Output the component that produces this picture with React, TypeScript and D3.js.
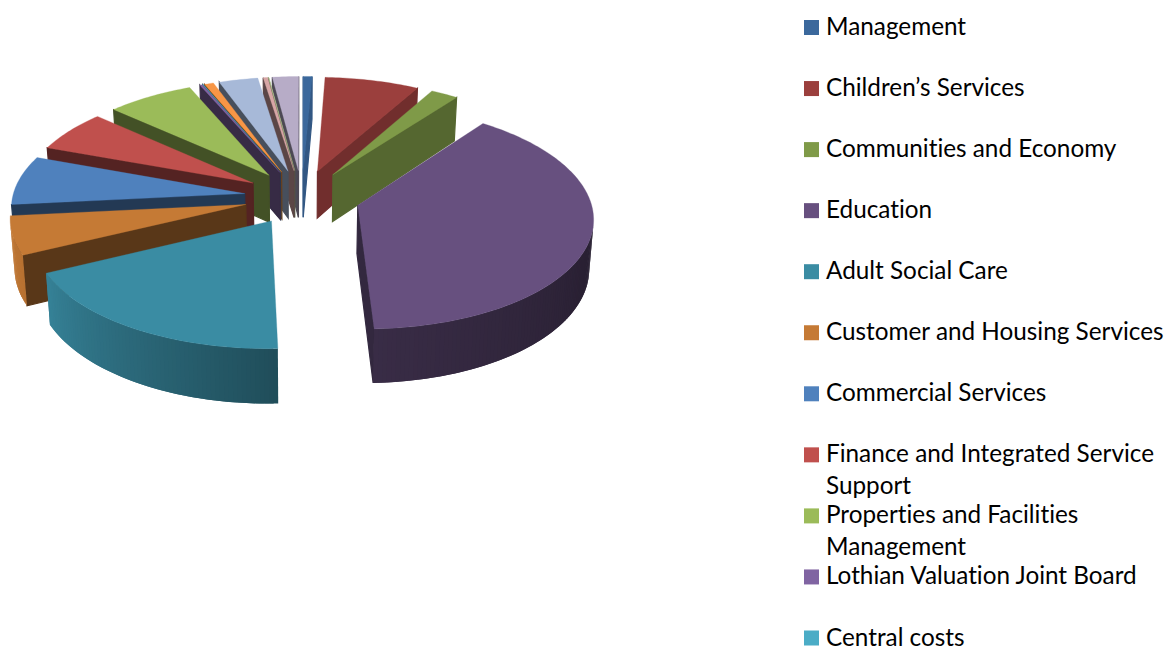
import React from "react";
import * as d3 from "d3";

// Budget shares by service, clockwise from twelve o'clock
const categories = [
  "Management",
  "Children’s Services",
  "Communities and Economy",
  "Education",
  "Adult Social Care",
  "Customer and Housing Services",
  "Commercial Services",
  "Finance and Integrated Service Support",
  "Properties and Facilities Management",
  "Lothian Valuation Joint Board",
  "Central costs",
  "Other 1",
  "Other 2",
  "Other 3",
  "Other 4",
  "Other 5",
];
const shares = [0.7, 7.4, 2.15, 39.15, 18.4, 5.6, 7.2, 6.12, 6.81, 0.2, 0.05, 0.72, 3.05, 0.35, 0.05, 2.05];
const colours = [
  "#3B689C", "#9B3F3D", "#7F9A48", "#67507F", "#3A8CA3", "#C57A35", "#4F81BD", "#C0504D",
  "#9BBB59", "#8064A2", "#4BACC6", "#F79646", "#A7B9D8", "#D7A6A5", "#C0D49B", "#B7ACC7",
];
// Legend rows: only the named services, some broken over two lines
const legendRows = [
  ["Management"],
  ["Children’s Services"],
  ["Communities and Economy"],
  ["Education"],
  ["Adult Social Care"],
  ["Customer and Housing Services"],
  ["Commercial Services"],
  ["Finance and Integrated Service", "Support"],
  ["Properties and Facilities", "Management"],
  ["Lothian Valuation Joint Board"],
  ["Central costs"],
];

const WIDTH = 1165;
const HEIGHT = 646;

// Pie geometry and the perspective camera
const CX = 302;
const CY = 197;
const RADIUS = 232;
const EXPLODE = 58;
const TILT = 0.47;
const DEPTH = 48;
const PERSPECTIVE = 0.00045;
const FLOOR_SHRINK = 0.015;

type Pt = [number, number];

const project = (wx: number, wy: number, z: number): Pt => {
  const s = 1 / (1 - PERSPECTIVE * wy);
  const sz = s * (1 - FLOOR_SHRINK * z);
  return [CX + wx * sz, CY + (TILT * wy + DEPTH * z) * s];
};

const deg = (r: number) => (r * 180) / Math.PI;

// Brightness of the outer wall and of the cut walls, by angle in degrees
const rimShade = d3.scaleLinear().domain([36, 110, 177, 244, 265, 360]).range([0.4, 0.4, 0.55, 0.93, 1, 1]);
const cutShade = d3.scaleLinear().domain([0, 28, 36, 177, 244, 360]).range([0.85, 0.74, 0.67, 0.5, 0.45, 0.42]);

const tint = (hex: string, f: number) => {
  const c = d3.rgb(hex);
  return d3.rgb(c.r * f, c.g * f, c.b * f).formatHex();
};

const line = d3.line<Pt>();
const closed = (pts: Pt[]) => `${line(pts)}Z`;

const pie = d3.pie<number>().sort(null).value((d) => d);

function buildSlice(arc: d3.PieArcDatum<number>, i: number) {
  const a0 = arc.startAngle;
  const a1 = arc.endAngle;
  const mid = (a0 + a1) / 2;
  const ox = EXPLODE * Math.sin(mid);
  const oy = -EXPLODE * Math.cos(mid);
  const rim = (a: number, z: number) =>
    project(ox + RADIUS * Math.sin(a), oy - RADIUS * Math.cos(a), z);
  const apex = (z: number) => project(ox, oy, z);
  const base = colours[i];

  const steps = Math.max(1, Math.ceil(deg(a1 - a0)));
  const angles = d3.range(steps + 1).map((k) => a0 + ((a1 - a0) * k) / steps);

  const top = closed([apex(0), ...angles.map((a) => rim(a, 0))]);

  // d3.polygonArea is positive for counter-clockwise rings in screen space,
  // which is how a wall turned towards the camera winds here
  const startWall: Pt[] = [apex(0), rim(a0, 0), rim(a0, 1), apex(1)];
  const endWall: Pt[] = [apex(0), rim(a1, 0), rim(a1, 1), apex(1)];
  const walls: { d: string; fill: string }[] = [];
  if (d3.polygonArea(startWall) > 0) walls.push({ d: closed(startWall), fill: tint(base, cutShade(deg(a0)) as number) });
  if (d3.polygonArea(endWall) < 0) walls.push({ d: closed(endWall), fill: tint(base, cutShade(deg(a1)) as number) });

  // Outer wall in one-degree bands; each band runs on under the next to hide the joins
  const outer: { d: string; fill: string }[] = [];
  for (let k = 0; k < steps; k++) {
    const to = angles[Math.min(k + 2, steps)];
    const quad: Pt[] = [rim(angles[k], 0), rim(angles[k + 1], 0), rim(angles[k + 1], 1), rim(angles[k], 1)];
    const band: Pt[] = [rim(angles[k], 0), rim(to, 0), rim(to, 1), rim(angles[k], 1)];
    if (d3.polygonArea(quad) > 0) {
      outer.push({ d: closed(band), fill: tint(base, rimShade(deg(angles[k])) as number) });
    }
  }
  return { key: i, depth: oy, top, walls, outer, base };
}

// Paint from the back of the pie to the front
const slices = pie(shares)
  .map((arc, i) => buildSlice(arc, i))
  .sort((a, b) => a.depth - b.depth);

const legendTop = 27.5;
const legendStep = 61.05;
const legendRowY = d3.scaleLinear().domain([0, 1]).range([legendTop, legendTop + legendStep]);

export default function App() {
  return (
    <svg
      width={WIDTH}
      height={HEIGHT}
      viewBox={`0 0 ${WIDTH} ${HEIGHT}`}
      style={{ position: "absolute", left: 0, top: 0, background: "#fff" }}
    >
      <g>
        {slices.map((s) => (
          <g key={s.key}>
            {s.walls.map((w, i) => (
              <path key={i} d={w.d} fill={w.fill} stroke={w.fill} strokeWidth={1.2} />
            ))}
            {s.outer.map((o, i) => (
              <path key={i} d={o.d} fill={o.fill} />
            ))}
            <path d={s.top} fill={s.base} stroke={s.base} strokeWidth={0.3} />
          </g>
        ))}
      </g>
      <g fontFamily="Lato, 'Open Sans', sans-serif" fontSize={24.3} fill="#000" style={{ fontVariantLigatures: "none" }}>
        {legendRows.map((lines, i) => {
          const y = legendRowY(i);
          return (
            <g key={lines[0]}>
              <rect x={804} y={y - 7.5} width={15} height={15} fill={colours[i]} />
              {lines.map((t, j) => (
                <text key={t} x={826} y={y + 7.5 + j * 32}>
                  {t}
                </text>
              ))}
            </g>
          );
        })}
      </g>
    </svg>
  );
}
